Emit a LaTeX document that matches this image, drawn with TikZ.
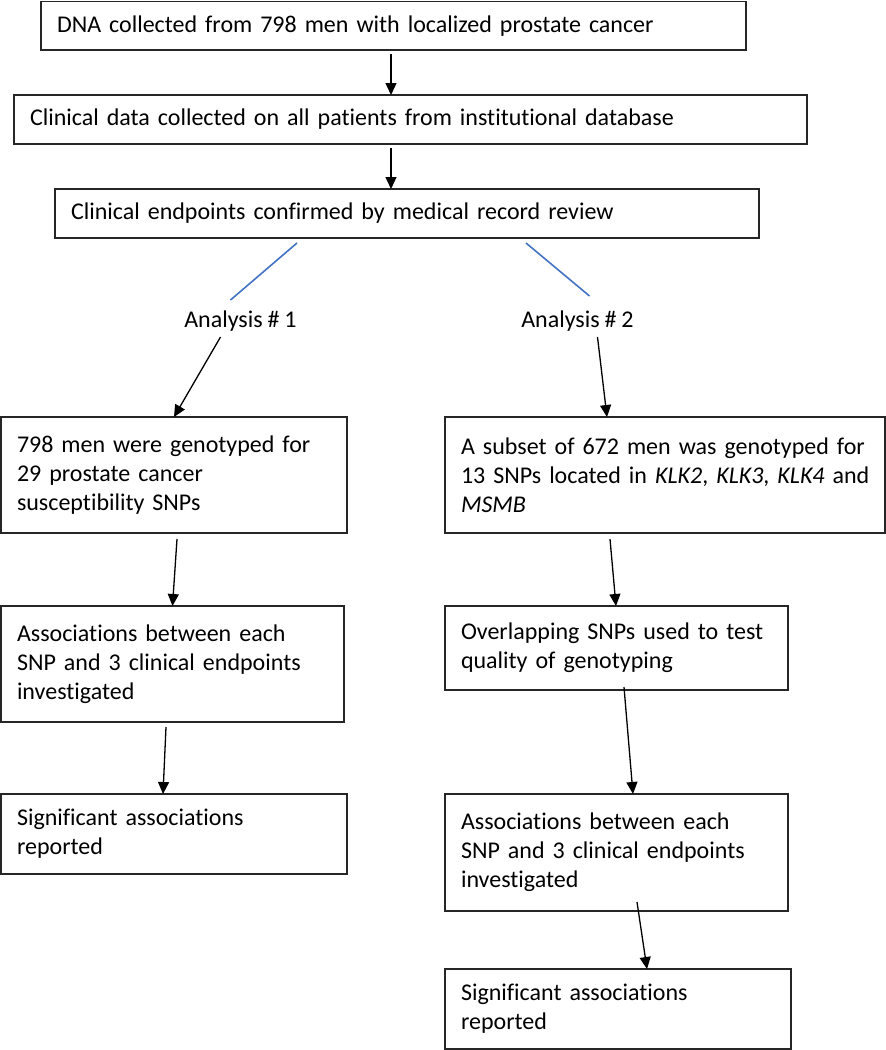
\documentclass[tikz,border=0pt]{standalone}
\usepackage{fontspec}
\setmainfont{Carlito}[Ligatures=NoCommon,WordSpace=0.9]
\usepackage{tikz}
\usetikzlibrary{arrows.meta,positioning}
\definecolor{officeblue}{RGB}{68,114,196}

\begin{document}
\begin{tikzpicture}[x=1pt,y=-1pt,
  flowbox/.style={rectangle, draw=black!85, line width=1.5pt, inner xsep=16pt, inner ysep=0pt, outer sep=0pt, execute at begin node={\raggedright}, font=\fontsize{24}{29}\selectfont},
  labelnode/.style={inner sep=0pt, font=\fontsize{24}{29}\selectfont},
  arrowline/.style={-{Triangle[length=12pt,width=11pt]}, line width=1.3pt},
  blueline/.style={draw=officeblue, line width=1.6pt}]
\useasboundingbox (0,0) rectangle (886,1050);
%Top boxes
\node[flowbox, text width=673pt, minimum height=48.5pt, anchor=north west] (dna) at (41,1.5) {DNA collected from 798 men with localized prostate cancer};
\node[flowbox, text width=761pt, minimum height=49pt] (clinical) [below right=45pt and -27pt of dna.south west] {Clinical data collected on all patients from institutional database};
\node[flowbox, text width=672pt, minimum height=49pt] (endpoints) [below right=45pt and 41pt of clinical.south west] {Clinical endpoints confirmed by medical record review};

%Analysis labels
\node[labelnode] (an1) at (240.5,321) {Analysis \# 1};
\node[labelnode] (an2) at (577.5,321) {Analysis \# 2};

%Left column
\node[flowbox, text width=314pt, minimum height=116pt] (gen1) [below right=179pt and -54pt of endpoints.south west] {798 men were genotyped for\\29 prostate cancer\\susceptibility SNPs};
\node[flowbox, text width=311pt, minimum height=116pt] (assoc1) [below right=73pt and 0pt of gen1.south west] {Associations between each\\SNP and 3 clinical endpoints\\investigated};
\node[flowbox, text width=314pt, minimum height=80pt] (sig1) [below right=72pt and 0pt of assoc1.south west] {Significant associations\\reported};

%Right column
\node[flowbox, text width=408pt, minimum height=116pt] (gen2) [below right=0pt and 98pt of gen1.north east] {\mbox{A subset of 672 men was genotyped for}\\\mbox{13 SNPs located in \textit{KLK2}, \textit{KLK3}, \textit{KLK4} and}\\\textit{MSMB}};
\node[flowbox, text width=311pt, minimum height=84pt] (qc2) [below right=73pt and 0pt of gen2.south west] {Overlapping SNPs used to test\\quality of genotyping};
\node[flowbox, text width=311pt, minimum height=117pt] (assoc2) [below right=104pt and 0pt of qc2.south west] {Associations between each\\SNP and 3 clinical endpoints\\investigated};
\node[flowbox, text width=314pt, minimum height=80pt] (sig2) [below right=58pt and 0pt of assoc2.south west] {Significant associations\\reported};

%Connectors
\draw[arrowline] ([xshift=350pt,yshift=-4pt]dna.south west) -- ([xshift=377pt]clinical.north west);
\draw[arrowline] ([xshift=377pt,yshift=-4pt]clinical.south west) -- ([xshift=336pt]endpoints.north west);
\draw[blueline] ([xshift=242pt,yshift=-5pt]endpoints.south west) -- ([xshift=-10pt,yshift=21pt]an1.center);
\draw[blueline] ([xshift=471pt,yshift=-5pt]endpoints.south west) -- ([xshift=12pt,yshift=25pt]an2.center);
\draw[arrowline] ([xshift=-20pt,yshift=-16pt]an1.center) -- (gen1.north);
\draw[arrowline] ([xshift=20pt,yshift=-16pt]an2.center) -- ([xshift=162pt]gen2.north west);
\draw[arrowline] ([xshift=3pt,yshift=-6pt]gen1.south) -- (assoc1.north);
\draw[arrowline] ([xshift=-6.5pt,yshift=-5pt]assoc1.south) -- ([xshift=162pt]sig1.north west);
\draw[arrowline] ([xshift=165pt,yshift=-6pt]gen2.south west) -- ([xshift=171pt]qc2.north west);
\draw[arrowline] ([xshift=179pt,yshift=3pt]qc2.south west) -- ([xshift=188pt]assoc2.north west);
\draw[arrowline] ([xshift=192pt,yshift=9pt]assoc2.south west) -- ([xshift=202pt]sig2.north west);
\end{tikzpicture}
\end{document}
